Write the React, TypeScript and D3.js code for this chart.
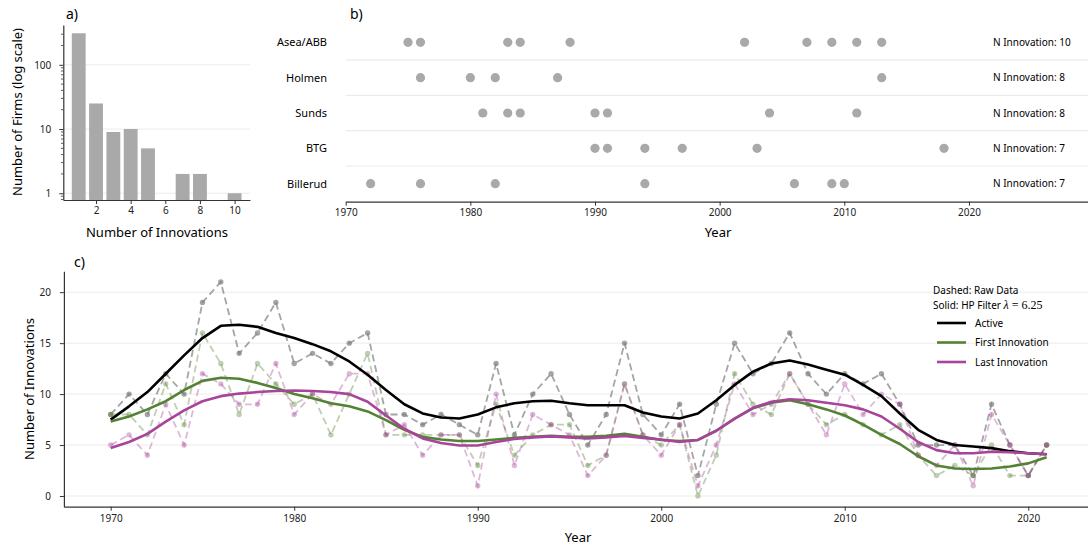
import * as d3 from "d3";
import { useEffect, useRef } from "react";

// panel a: firms by number of innovations
const innovCounts = [1, 2, 3, 4, 5, 7, 8, 10];
const firmCounts = [310, 25, 9, 10, 5, 2, 2, 1];

// panel b: innovation years of the top firms
const firmNames = ["Asea/ABB", "Holmen", "Sunds", "BTG", "Billerud"];
const firmTotals = [10, 8, 8, 7, 7];
const firmYears = [
  [1975, 1976, 1983, 1984, 1988, 2002, 2007, 2009, 2011, 2013],
  [1976, 1980, 1982, 1987, 2013],
  [1981, 1983, 1984, 1990, 1991, 2004, 2011],
  [1990, 1991, 1994, 1997, 2003, 2018],
  [1972, 1976, 1982, 1994, 2006, 2009, 2010],
];

// panel c: yearly series 1970-2021
const years = d3.range(1970, 2022);
const activeRaw = [
  8, 10, 8, 12, 10, 19, 21, 14, 16, 19,
  13, 14, 13, 15, 16, 8, 8, 7, 8, 7,
  6, 13, 6, 10, 12, 8, 5, 8, 15, 8,
  6, 9, 2, 9, 15, 12, 13, 16, 12, 10,
  12, 11, 12, 9, 5, 5, 5, 2, 9, 5, 2, 5,
];
const firstRaw = [
  8, 8, 6, 11, 7, 16, 13, 8, 13, 11,
  9, 10, 6, 10, 14, 6, 6, 6, 6, 6,
  3, 9, 4, 6, 7, 7, 3, 4, 11, 6,
  5, 7, 0, 4, 12, 9, 8, 12, 9, 7,
  8, 7, 6, 7, 4, 2, 3, 2, 5, 2, 2, 5,
];
const lastRaw = [
  5, 6, 4, 9, 5, 12, 11, 9, 9, 13,
  8, 10, 9, 12, 12, 6, 7, 4, 6, 6,
  1, 10, 3, 8, 7, 6, 2, 4, 11, 6,
  4, 7, 1, 5, 11, 8, 9, 12, 9, 6,
  11, 8, 10, 9, 4, 3, 5, 1, 8, 5, 2, 5,
];
const activeTrend = [
  7.5, 8.8, 10.2, 12.0, 13.8, 15.5, 16.7, 16.8, 16.6, 16.0,
  15.5, 14.9, 14.2, 13.2, 11.9, 10.4, 9.0, 8.1, 7.7, 7.6,
  8.0, 8.7, 9.1, 9.3, 9.35, 9.1, 8.9, 8.9, 8.9, 8.2,
  7.8, 7.6, 8.1, 9.4, 10.9, 12.2, 13.0, 13.3, 12.9, 12.4,
  11.9, 10.9, 9.8, 8.1, 6.5, 5.5, 5.0, 4.85, 4.7, 4.4, 4.2, 4.1,
];
const firstTrend = [
  7.3, 7.8, 8.5, 9.3, 10.4, 11.3, 11.6, 11.5, 11.1, 10.6,
  10.0, 9.6, 9.1, 8.8, 8.3, 7.45, 6.5, 5.8, 5.55, 5.4,
  5.4, 5.55, 5.7, 5.8, 5.9, 5.8, 5.8, 5.9, 6.1, 5.8,
  5.5, 5.4, 5.5, 6.4, 7.6, 8.6, 9.15, 9.4, 9.0, 8.5,
  7.9, 7.0, 6.0, 5.1, 3.9, 3.0, 2.7, 2.65, 2.7, 2.9, 3.2, 3.8,
];
const lastTrend = [
  4.7, 5.3, 6.1, 7.3, 8.4, 9.3, 9.8, 10.05, 10.2, 10.3,
  10.35, 10.3, 10.2, 10.0, 9.25, 7.9, 6.6, 5.65, 5.2, 4.95,
  4.95, 5.3, 5.6, 5.75, 5.85, 5.75, 5.65, 5.75, 5.9, 5.7,
  5.55, 5.3, 5.5, 6.4, 7.6, 8.65, 9.25, 9.5, 9.4, 9.15,
  8.9, 8.5, 7.8, 6.6, 5.3, 4.5, 4.2, 4.2, 4.35, 4.3, 4.2, 4.1,
];

const FONT = "'Noto Sans', 'DejaVu Sans', sans-serif";
const GREEN = "#548235";
const PINK = "#a8449a";
const GRID = "#ebebeb";
const AXIS = "#333";

export default function App() {
  const ref = useRef<SVGSVGElement | null>(null);

  useEffect(() => {
    const svg = d3.select(ref.current);
    svg.selectAll("*").remove();
    svg.style("font-family", FONT);

    const styleAxis = (g: any, size = "10px") => {
      g.select(".domain").attr("stroke", AXIS).attr("stroke-width", 1.2);
      g.selectAll(".tick line").attr("stroke", AXIS);
      g.selectAll(".tick text").attr("fill", "#222").style("font-size", size).style("font-family", FONT);
    };

    // ---------- panel a ----------
    const ax = d3.scaleLinear().domain([0.11, 10.89]).range([63.3, 250]);
    const ay = d3.scaleLog().domain([Math.pow(10, -0.105), Math.pow(10, 2.62)]).range([200, 25]);

    const a = svg.append("g");
    a.selectAll(".grid")
      .data([1, 10, 100])
      .join("line")
      .attr("x1", 63.3)
      .attr("x2", 250)
      .attr("y1", (d) => ay(d))
      .attr("y2", (d) => ay(d))
      .attr("stroke", GRID);

    a.selectAll(".bar")
      .data(innovCounts)
      .join("rect")
      .attr("x", (d) => ax(d - 0.4))
      .attr("width", ax(0.8) - ax(0))
      .attr("y", (_, i) => ay(firmCounts[i]))
      .attr("height", (_, i) => 200 - ay(firmCounts[i]))
      .attr("fill", "#a9a9a9");

    const aY = a.append("g")
      .attr("transform", "translate(63.3,0)")
      .call(d3.axisLeft(ay).tickValues([1, 10, 100]).tickFormat(d3.format("d")).tickSize(4).tickPadding(8).tickSizeOuter(0));
    styleAxis(aY);
    // minor log ticks
    const minors = [0.8, 0.9, 2, 3, 4, 5, 6, 7, 8, 9, 20, 30, 40, 50, 60, 70, 80, 90, 200, 300];
    a.selectAll(".minor")
      .data(minors)
      .join("line")
      .attr("x1", 61)
      .attr("x2", 63.3)
      .attr("y1", (d) => ay(d))
      .attr("y2", (d) => ay(d))
      .attr("stroke", AXIS)
      .attr("stroke-width", 0.8);

    const aX = a.append("g")
      .attr("transform", "translate(0,200)")
      .call(d3.axisBottom(ax).tickValues([2, 4, 6, 8, 10]).tickSize(4).tickPadding(3).tickSizeOuter(0));
    styleAxis(aX);

    a.append("text").attr("x", 66).attr("y", 19).text("a)").style("font-size", "14px");
    a.append("text").attr("x", 157).attr("y", 237).attr("text-anchor", "middle").text("Number of Innovations").style("font-size", "13px");
    a.append("text")
      .attr("transform", "translate(22,112) rotate(-90)")
      .attr("text-anchor", "middle")
      .text("Number of Firms (log scale)")
      .style("font-size", "13px");

    // ---------- panel b ----------
    const bx = d3.scaleLinear().domain([1970, 2030]).range([345.7, 1093.6]);
    const by = d3.scalePoint().domain(firmNames).range([42.3, 183.7]);
    const b = svg.append("g");

    b.selectAll(".sep")
      .data(firmNames.slice(1))
      .join("line")
      .attr("x1", 345.7)
      .attr("x2", 1088)
      .attr("y1", (d) => (by(d) as number) - 17.7)
      .attr("y2", (d) => (by(d) as number) - 17.7)
      .attr("stroke", GRID)
      .attr("stroke-width", 1.2);

    firmNames.forEach((name, i) => {
      const yy = by(name) as number;
      b.selectAll(`.dot${i}`)
        .data(firmYears[i])
        .join("circle")
        .attr("cx", (d) => bx(d))
        .attr("cy", yy)
        .attr("r", 4.6)
        .attr("fill", "#a9a9a9");
      b.append("text")
        .attr("x", 327)
        .attr("y", yy)
        .attr("dy", "0.35em")
        .attr("text-anchor", "end")
        .text(name)
        .style("font-size", "11px");
      b.append("text")
        .attr("x", 993)
        .attr("y", yy)
        .attr("dy", "0.35em")
        .text(`N Innovation: ${firmTotals[i]}`)
        .style("font-size", "10px");
    });

    const bX = b.append("g")
      .attr("transform", "translate(0,201.7)")
      .call(d3.axisBottom(bx).tickValues([1970, 1980, 1990, 2000, 2010, 2020]).tickFormat(d3.format("d")).tickSize(4).tickPadding(3).tickSizeOuter(0));
    styleAxis(bX);
    b.append("text").attr("x", 350).attr("y", 19).text("b)").style("font-size", "14px");
    b.append("text").attr("x", 718).attr("y", 237).attr("text-anchor", "middle").text("Year").style("font-size", "13px");

    // ---------- panel c ----------
    const cx = d3.scaleLinear().domain([1967.45, 2023.55]).range([63.9, 1093.4]);
    const cy = d3.scaleLinear().domain([-1.05, 22.05]).range([506.7, 271.3]);
    const c = svg.append("g");

    c.selectAll(".cgrid")
      .data([0, 5, 10, 15, 20])
      .join("line")
      .attr("x1", 63.9)
      .attr("x2", 1088)
      .attr("y1", (d) => cy(d))
      .attr("y2", (d) => cy(d))
      .attr("stroke", GRID);

    const line = d3
      .line<number>()
      .x((_, i) => cx(years[i]))
      .y((d) => cy(d));

    const raws = [
      { vals: activeRaw, color: "#7f7f7f", op: 0.7 },
      { vals: firstRaw, color: GREEN, op: 0.38 },
      { vals: lastRaw, color: PINK, op: 0.38 },
    ];
    raws.forEach((r, k) => {
      c.append("path")
        .datum(r.vals)
        .attr("fill", "none")
        .attr("stroke", r.color)
        .attr("stroke-opacity", r.op)
        .attr("stroke-width", 1.8)
        .attr("stroke-dasharray", "7,4")
        .attr("d", line);
      c.selectAll(`.m${k}`)
        .data(r.vals)
        .join("circle")
        .attr("cx", (_, i) => cx(years[i]))
        .attr("cy", (d) => cy(d))
        .attr("r", 2.7)
        .attr("fill", r.color)
        .attr("fill-opacity", r.op);
    });

    const trends = [
      { vals: activeTrend, color: "#000" },
      { vals: firstTrend, color: GREEN },
      { vals: lastTrend, color: PINK },
    ];
    trends.forEach((t) => {
      c.append("path")
        .datum(t.vals)
        .attr("fill", "none")
        .attr("stroke", t.color)
        .attr("stroke-width", 2.6)
        .attr("stroke-linejoin", "round")
        .attr("d", line);
    });

    const cY = c.append("g")
      .attr("transform", "translate(63.9,0)")
      .call(d3.axisLeft(cy).tickValues([0, 5, 10, 15, 20]).tickSize(4).tickPadding(9).tickSizeOuter(0));
    styleAxis(cY);
    const cX = c.append("g")
      .attr("transform", "translate(0,506.7)")
      .call(d3.axisBottom(cx).tickValues([1970, 1980, 1990, 2000, 2010, 2020]).tickFormat(d3.format("d")).tickSize(4).tickPadding(4).tickSizeOuter(0));
    styleAxis(cX);

    c.append("text").attr("x", 74).attr("y", 267).text("c)").style("font-size", "14px");
    c.append("text").attr("x", 578).attr("y", 542).attr("text-anchor", "middle").text("Year").style("font-size", "13px");
    c.append("text")
      .attr("transform", "translate(34,389) rotate(-90)")
      .attr("text-anchor", "middle")
      .text("Number of Innovations")
      .style("font-size", "13px");

    // legend
    c.append("text").attr("x", 933).attr("y", 290).attr("dy", "0.35em").text("Dashed: Raw Data").style("font-size", "10px");
    const solid = c.append("text").attr("x", 933).attr("y", 305).attr("dy", "0.35em").style("font-size", "10px");
    solid.append("tspan").text("Solid: HP Filter ");
    solid.append("tspan").text("λ").style("font-family", "'Liberation Serif', serif").style("font-style", "italic").style("font-size", "12px");
    solid.append("tspan").text(" = 6.25").style("font-family", "'Liberation Serif', serif").style("font-size", "12px");

    const legendItems = [
      { label: "Active", color: "#000" },
      { label: "First Innovation", color: GREEN },
      { label: "Last Innovation", color: PINK },
    ];
    legendItems.forEach((it, i) => {
      const ly = 323 + i * 19.5;
      c.append("line").attr("x1", 937).attr("x2", 966).attr("y1", ly).attr("y2", ly).attr("stroke", it.color).attr("stroke-width", 2.6);
      c.append("text").attr("x", 975).attr("y", ly).attr("dy", "0.35em").text(it.label).style("font-size", "10px");
    });
  }, []);

  return <svg ref={ref} width={1088} height={547} style={{ position: "absolute", left: 0, top: 0 }}></svg>;
}
